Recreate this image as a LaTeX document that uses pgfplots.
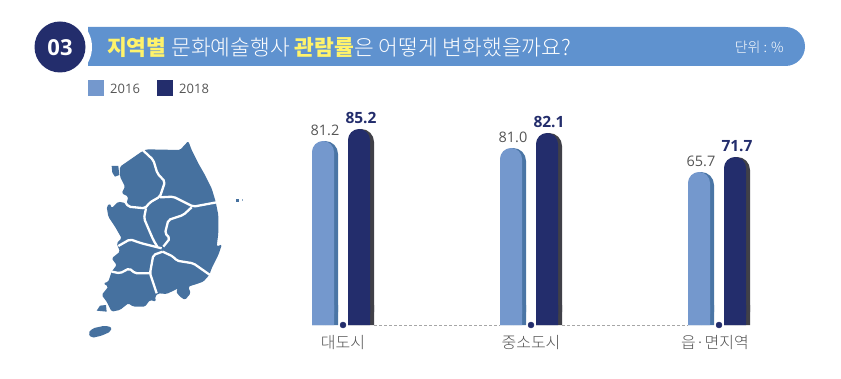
\documentclass[border=0pt]{standalone}
\usepackage{fontspec}
\setmainfont{Noto Sans CJK KR}
\newfontfamily\krlight{Noto Sans CJK KR Light}
\newfontfamily\latinf{Open Sans}
\usepackage{pgfplots}
\usepackage{pgfplotstable}
\pgfplotsset{compat=1.18}
\definecolor{banner}{HTML}{5F92CF}
\definecolor{navy}{HTML}{232D6C}
\definecolor{lightbar}{HTML}{7498CD}
\definecolor{lightshade}{HTML}{4A75A5}
\definecolor{darkshade}{HTML}{404048}
\definecolor{mapblue}{HTML}{46719F}
\definecolor{ytitle}{HTML}{FFF36B}
\definecolor{txt}{HTML}{555555}
% cat = category position, drawn = bar height as drawn (px), label = printed value
\pgfplotstableread{
cat drawn label
0 184 81.2
1 177 81.0
2 153 65.7
}\tblA
\pgfplotstableread{
cat drawn label
0 196 85.2
1 192 82.1
2 168 71.7
}\tblB
\begin{document}
\begin{tikzpicture}[x=1pt,y=1pt]
\path[use as bounding box] (0,0) rectangle (841,378);
\begin{scope}[shift={(0,378)},y=-1pt]
% banner
\fill[banner] (88,27) -- (785.5,27) arc[start angle=90,end angle=-90,radius=19.5pt] -- (88,66) -- cycle;
\fill[white] (60,47) circle[radius=32pt];
\fill[navy] (60,47) circle[radius=25.5pt];
\node[white,font=\latinf\bfseries\fontsize{22}{22}\selectfont] at (60,47.5) {03};
\node[anchor=west,inner sep=0pt,white,font=\krlight\fontsize{21.5}{22}\selectfont] at (107,47) {{\color{ytitle}\normalfont\fontsize{21.5}{22}\selectfont\bfseries 지역별} 문화예술행사 {\color{ytitle}\normalfont\fontsize{21.5}{22}\selectfont\bfseries 관람률}은 어떻게 변화했을까요?};
\node[anchor=east,inner sep=0pt,white,font=\krlight\fontsize{14}{15}\selectfont] at (784,47) {단위 : \%};
% legend
\fill[lightbar] (88,80) rectangle (104,96);
\node[anchor=west,inner sep=0pt,txt,font=\latinf\fontsize{13}{14}\selectfont] at (110,88.5) {2016};
\fill[navy] (157,80) rectangle (173,96);
\node[anchor=west,inner sep=0pt,txt,font=\latinf\fontsize{13}{14}\selectfont] at (179,88.5) {2018};
\end{scope}
% map
\begin{scope}[shift={(70,238)},x=0.3333pt,y=-0.3333pt]
\fill[mapblue,rounded corners=1.5pt] (355,3)--(365,30)--(385,70)--(405,105)--(425,145)--(437,185)--(445,225)--(445,280)--(440,320)--(456,313)--(445,345)--(425,385)--(418,405)--(400,425)--(380,432)--(355,440)--(362,460)--(345,480)--(330,470)--(318,455)--(325,445)--(290,462)--(265,460)--(255,470)--(258,485)--(240,480)--(225,500)--(190,500)--(175,490)--(150,510)--(125,515)--(110,485)--(95,465)--(115,440)--(100,430)--(115,425)--(125,395)--(140,375)--(125,355)--(150,335)--(140,310)--(155,295)--(135,260)--(115,230)--(110,200)--(120,190)--(125,205)--(145,185)--(170,190)--(175,170)--(155,160)--(165,140)--(150,110)--(150,80)--(215,35)--(230,28)--(330,30)--cycle;
\fill[mapblue] (125,78)--(145,78)--(148,105)--(135,110)--(127,98)--cycle;
\fill[mapblue] (80,512)--(90,497)--(108,495)--(110,515)--cycle;
\fill[mapblue,rounded corners=2pt] (54,580)--(68,565)--(105,557)--(125,562)--(122,575)--(95,587)--(65,594)--cycle;
\fill[mapblue] (498,178) rectangle (506,186);
\fill[mapblue!60] (516,178) rectangle (520,182);
\begin{scope}[white,line width=2.3pt,line join=round,rounded corners=2pt]
\draw (218,30)--(250,60)--(262,100)--(285,125)--(270,170)--(240,187)--(225,205)--(175,200)--(165,185);
\draw (270,172)--(310,170)--(370,200)--(440,187);
\draw (228,205)--(222,235)--(250,300)--(262,320);
\draw (365,202)--(340,225)--(295,240)--(285,280)--(300,295)--(280,320);
\draw (145,318)--(180,298)--(215,310)--(275,325);
\draw (278,335)--(250,345)--(240,400)--(260,460);
\draw (125,395)--(150,400)--(178,385)--(195,400)--(240,400);
\draw (278,335)--(310,350)--(320,362)--(370,370)--(420,405);
\end{scope}
\end{scope}
% chart
\begin{axis}[
  at={(0,53)},anchor=south west,
  x=188pt,y=1pt,
  xmin=-1.8245,xmax=2.649,ymin=0,ymax=235,
  axis x line=bottom,axis y line=none,
  axis line style={draw=none},
  xtick={0,1,2},xticklabels={대도시,중소도시,{\kern-8pt 읍·면지역}},
  x tick label style={font=\krlight\fontsize{16}{17}\selectfont,text=txt,yshift=-3pt},
  major tick style={draw=none},
  ybar,
  point meta=explicit symbolic,
  every node near coord/.style={anchor=south,inner sep=0pt,yshift=5pt},
]
\addplot[draw=none,fill=lightshade,bar width=26pt,bar shift=-18pt,rounded corners=13pt]
  table[x=cat,y=drawn,meta=label]{\tblA};
\addplot[draw=none,fill=lightshade,bar width=26pt,bar shift=-18pt,forget plot] coordinates {(0,20)(1,20)(2,20)};
\addplot[draw=none,fill=lightbar,bar width=22pt,bar shift=-20pt,rounded corners=11pt,
  nodes near coords,nodes near coords style={font=\latinf\fontsize{14.5}{15}\selectfont,text=txt,xshift=-18pt}]
  table[x=cat,y=drawn,meta=label]{\tblA};
\addplot[draw=none,fill=lightbar,bar width=22pt,bar shift=-20pt,forget plot] coordinates {(0,20)(1,20)(2,20)};
\addplot[draw=none,fill=darkshade,bar width=26pt,bar shift=18pt,rounded corners=13pt]
  table[x=cat,y=drawn,meta=label]{\tblB};
\addplot[draw=none,fill=darkshade,bar width=26pt,bar shift=18pt,forget plot] coordinates {(0,20)(1,20)(2,20)};
\addplot[draw=none,fill=navy,bar width=22pt,bar shift=16pt,rounded corners=11pt,
  nodes near coords,nodes near coords style={font=\latinf\bfseries\fontsize{15.5}{16}\selectfont,text=navy,xshift=18pt}]
  table[x=cat,y=drawn,meta=label]{\tblB};
\addplot[draw=none,fill=navy,bar width=22pt,bar shift=16pt,forget plot] coordinates {(0,20)(1,20)(2,20)};
\end{axis}
\begin{axis}[
  at={(0,53)},anchor=south west,
  x=188pt,y=1pt,
  xmin=-1.8245,xmax=2.649,ymin=0,ymax=235,
  hide axis,clip=false,
]
\addplot[gray!70,densely dashed,line width=0.5pt] coordinates {(0.165,0)(0.835,0)};
\addplot[gray!70,densely dashed,line width=0.5pt] coordinates {(1.165,0)(1.835,0)};
\addplot[only marks,mark=*,mark size=3pt,navy] coordinates {(0,0)(1,0)(2,0)};
\end{axis}
\end{tikzpicture}
\end{document}
